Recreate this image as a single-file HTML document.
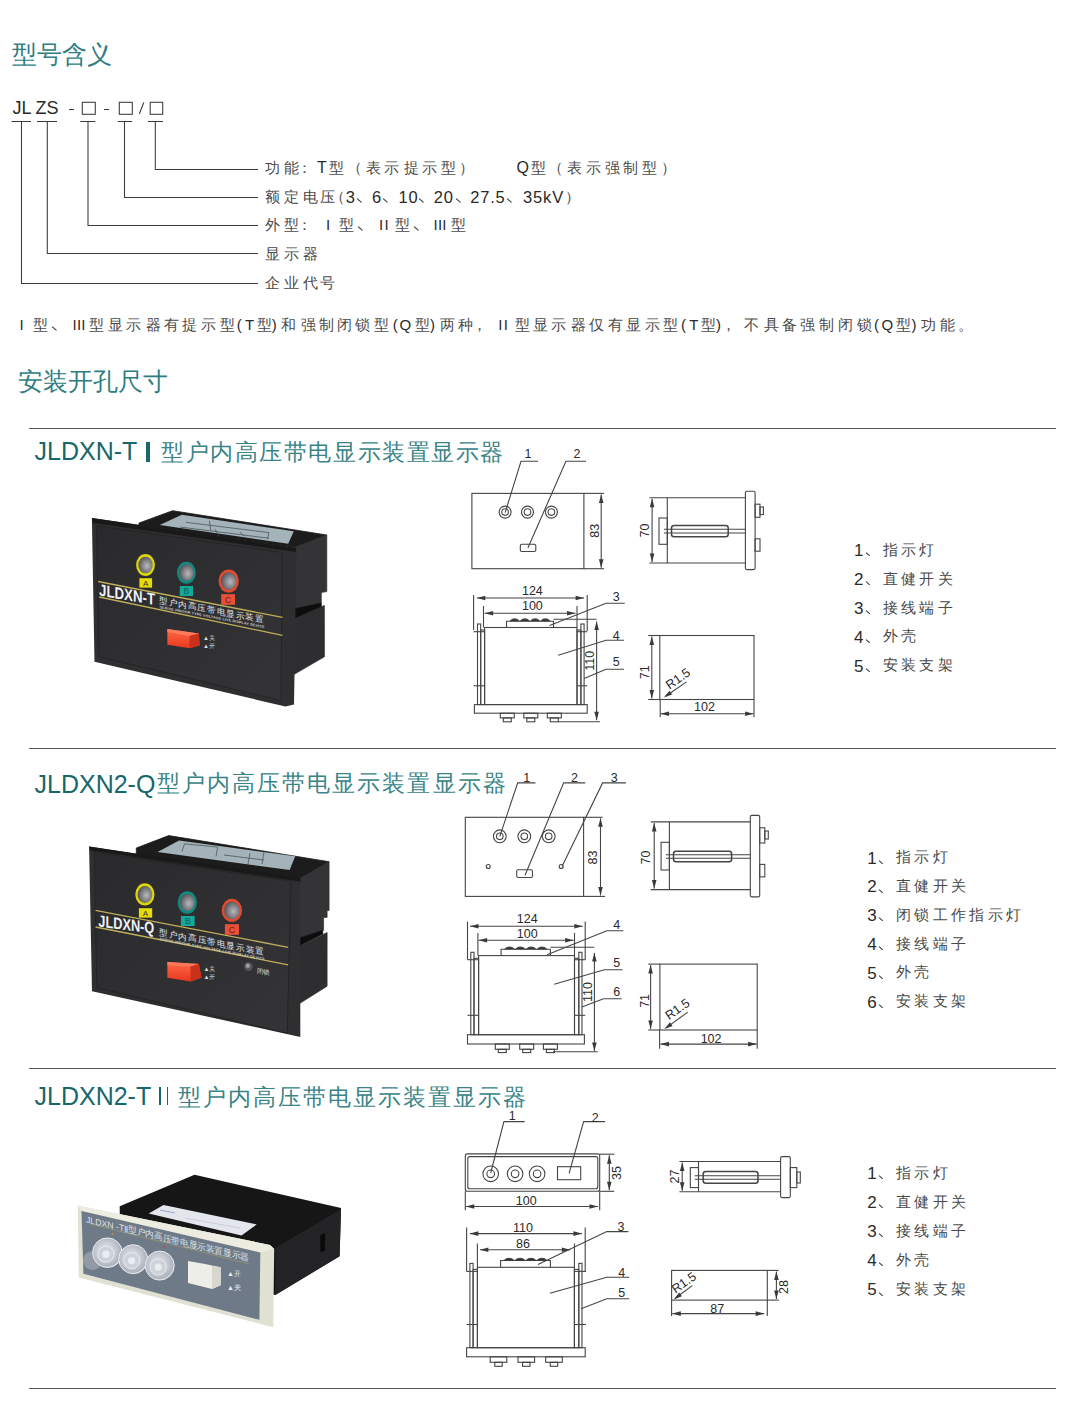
<!DOCTYPE html>
<html><head><meta charset="utf-8">
<style>
html,body{margin:0;padding:0;background:#fff;}
body{width:1085px;height:1417px;position:relative;overflow:hidden;font-family:"Liberation Sans",sans-serif;color:#2a2a2a;}
.a{position:absolute;white-space:nowrap;line-height:1;}
.title{font-size:25px;color:#2f7e82;}
.hr{position:absolute;height:1px;background:#5a5a5a;left:29px;width:1027px;}
svg{position:absolute;left:0;top:0;}
svg text{font-family:"Liberation Sans",sans-serif;stroke:none;}
.dw text{fill:#2a2a2a;}
</style></head><body>
<div class="a title" style="left:12px;top:42px;">型号含义</div>
<div class="a" style="left:12.5px;top:99.3px;font-size:18px;">JL</div>
<div class="a" style="left:35.5px;top:99.3px;font-size:18px;">ZS</div>
<svg width="1085" height="1417" viewBox="0 0 1085 1417"><g stroke="#3a3a3a" stroke-width="1.05" fill="none">
<line x1="69" y1="109.5" x2="74" y2="109.5"/>
<line x1="104" y1="109.5" x2="109" y2="109.5"/>
<rect x="82.3" y="102.3" width="13" height="12" />
<rect x="119.3" y="102.3" width="13" height="12" />
<rect x="150.2" y="102.3" width="12.5" height="12" />
<line x1="143.8" y1="102.5" x2="139.3" y2="114"/>
<line x1="11.5" y1="121.5" x2="31" y2="121.5"/>
<line x1="37" y1="121.5" x2="57" y2="121.5"/>
<line x1="80.3" y1="121.5" x2="95.3" y2="121.5"/>
<line x1="117.8" y1="121.5" x2="132.2" y2="121.5"/>
<line x1="148" y1="121.5" x2="163" y2="121.5"/>
<polyline points="155.3,121.5 155.3,169.5 258,169.5"/>
<polyline points="124.5,121.5 124.5,197.5 258,197.5"/>
<polyline points="88,121.5 88,225.5 258,225.5"/>
<polyline points="47.3,121.5 47.3,253.5 258,253.5"/>
<polyline points="21.5,121.5 21.5,283.5 258,283.5"/>
</g></svg>
<div class="a" style="left:264.7px;top:159.6px;font-size:15px;color:#4a4a4a;">功</div>
<div class="a" style="left:283.6px;top:159.6px;font-size:15px;color:#4a4a4a;">能</div>
<div class="a" style="left:296.9px;top:159.6px;font-size:15px;color:#4a4a4a;">：</div>
<div class="a" style="left:317.1px;top:159.6px;font-size:16px;">T</div>
<div class="a" style="left:328.7px;top:159.6px;font-size:15px;color:#4a4a4a;">型</div>
<div class="a" style="left:346.5px;top:159.6px;font-size:15px;color:#4a4a4a;">（</div>
<div class="a" style="left:365.7px;top:159.6px;font-size:15px;color:#4a4a4a;">表</div>
<div class="a" style="left:384.1px;top:159.6px;font-size:15px;color:#4a4a4a;">示</div>
<div class="a" style="left:403.5px;top:159.6px;font-size:15px;color:#4a4a4a;">提</div>
<div class="a" style="left:421.9px;top:159.6px;font-size:15px;color:#4a4a4a;">示</div>
<div class="a" style="left:440.8px;top:159.6px;font-size:15px;color:#4a4a4a;">型</div>
<div class="a" style="left:459.1px;top:159.6px;font-size:15px;color:#4a4a4a;">）</div>
<div class="a" style="left:516.4px;top:159.6px;font-size:16px;">Q</div>
<div class="a" style="left:530.7px;top:159.6px;font-size:15px;color:#4a4a4a;">型</div>
<div class="a" style="left:547.8px;top:159.6px;font-size:15px;color:#4a4a4a;">（</div>
<div class="a" style="left:567.1px;top:159.6px;font-size:15px;color:#4a4a4a;">表</div>
<div class="a" style="left:585.8px;top:159.6px;font-size:15px;color:#4a4a4a;">示</div>
<div class="a" style="left:605.2px;top:159.6px;font-size:15px;color:#4a4a4a;">强</div>
<div class="a" style="left:623.2px;top:159.6px;font-size:15px;color:#4a4a4a;">制</div>
<div class="a" style="left:641.9px;top:159.6px;font-size:15px;color:#4a4a4a;">型</div>
<div class="a" style="left:660.6px;top:159.6px;font-size:15px;color:#4a4a4a;">）</div>
<div class="a" style="left:264.7px;top:188.6px;font-size:15px;color:#4a4a4a;">额</div>
<div class="a" style="left:283.6px;top:188.6px;font-size:15px;color:#4a4a4a;">定</div>
<div class="a" style="left:302.9px;top:188.6px;font-size:15px;color:#4a4a4a;">电</div>
<div class="a" style="left:320.4px;top:188.6px;font-size:15px;color:#4a4a4a;">压</div>
<div class="a" style="left:330.3px;top:188.6px;font-size:15px;color:#4a4a4a;">（</div>
<div class="a" style="left:345.8px;top:188.6px;font-size:16.5px;">3</div>
<div style="position:absolute;left:357.0px;top:197.8px;width:6.0px;height:1.3px;background:#333;transform:rotate(42deg);transform-origin:0 50%;border-radius:0 1px 1px 0;"></div>
<div class="a" style="left:372.1px;top:188.6px;font-size:16.5px;">6</div>
<div style="position:absolute;left:383.3px;top:197.8px;width:6.0px;height:1.3px;background:#333;transform:rotate(42deg);transform-origin:0 50%;border-radius:0 1px 1px 0;"></div>
<div class="a" style="left:398.5px;top:188.6px;font-size:16.5px;letter-spacing:0.8px;">10</div>
<div style="position:absolute;left:419.3px;top:197.8px;width:6.0px;height:1.3px;background:#333;transform:rotate(42deg);transform-origin:0 50%;border-radius:0 1px 1px 0;"></div>
<div class="a" style="left:433.8px;top:188.6px;font-size:16.5px;letter-spacing:0.8px;">20</div>
<div style="position:absolute;left:456.4px;top:197.8px;width:6.0px;height:1.3px;background:#333;transform:rotate(42deg);transform-origin:0 50%;border-radius:0 1px 1px 0;"></div>
<div class="a" style="left:470.2px;top:188.6px;font-size:16.5px;letter-spacing:0.8px;">27.5</div>
<div style="position:absolute;left:507.1px;top:197.8px;width:6.0px;height:1.3px;background:#333;transform:rotate(42deg);transform-origin:0 50%;border-radius:0 1px 1px 0;"></div>
<div class="a" style="left:522.9px;top:188.6px;font-size:16.5px;letter-spacing:0.9px;">35kV</div>
<div class="a" style="left:565.0px;top:188.6px;font-size:15px;color:#4a4a4a;">）</div>
<div class="a" style="left:264.7px;top:216.6px;font-size:15px;color:#4a4a4a;">外</div>
<div class="a" style="left:283.6px;top:216.6px;font-size:15px;color:#4a4a4a;">型</div>
<div class="a" style="left:296.9px;top:216.6px;font-size:15px;color:#4a4a4a;">：</div>
<div class="a" style="left:325.9px;top:216.6px;font-size:15px;">I</div>
<div class="a" style="left:339.3px;top:216.6px;font-size:15px;color:#4a4a4a;">型</div>
<div style="position:absolute;left:357.7px;top:225.8px;width:6.0px;height:1.3px;background:#333;transform:rotate(42deg);transform-origin:0 50%;border-radius:0 1px 1px 0;"></div>
<div class="a" style="left:378.9px;top:216.6px;font-size:15px;letter-spacing:1.5px;">II</div>
<div class="a" style="left:395.3px;top:216.6px;font-size:15px;color:#4a4a4a;">型</div>
<div style="position:absolute;left:414.1px;top:225.8px;width:6.0px;height:1.3px;background:#333;transform:rotate(42deg);transform-origin:0 50%;border-radius:0 1px 1px 0;"></div>
<div class="a" style="left:433.6px;top:216.6px;font-size:15px;letter-spacing:0.2px;">III</div>
<div class="a" style="left:451.2px;top:216.6px;font-size:15px;color:#4a4a4a;">型</div>
<div class="a" style="left:264.7px;top:245.6px;font-size:15px;color:#4a4a4a;">显</div>
<div class="a" style="left:283.6px;top:245.6px;font-size:15px;color:#4a4a4a;">示</div>
<div class="a" style="left:302.9px;top:245.6px;font-size:15px;color:#4a4a4a;">器</div>
<div class="a" style="left:264.7px;top:274.6px;font-size:15px;color:#4a4a4a;">企</div>
<div class="a" style="left:283.6px;top:274.6px;font-size:15px;color:#4a4a4a;">业</div>
<div class="a" style="left:302.9px;top:274.6px;font-size:15px;color:#4a4a4a;">代</div>
<div class="a" style="left:320.4px;top:274.6px;font-size:15px;color:#4a4a4a;">号</div>
<div class="a" style="left:19.6px;top:316.7px;font-size:15px;">I</div>
<div class="a" style="left:33.0px;top:316.7px;font-size:15px;color:#4a4a4a;">型</div>
<div style="position:absolute;left:51.9px;top:325.9px;width:6.0px;height:1.3px;background:#333;transform:rotate(42deg);transform-origin:0 50%;border-radius:0 1px 1px 0;"></div>
<div class="a" style="left:72.6px;top:316.7px;font-size:15px;letter-spacing:0.2px;">III</div>
<div class="a" style="left:89.3px;top:316.7px;font-size:15px;color:#4a4a4a;">型</div>
<div class="a" style="left:108.2px;top:316.7px;font-size:15px;color:#4a4a4a;">显</div>
<div class="a" style="left:126.2px;top:316.7px;font-size:15px;color:#4a4a4a;">示</div>
<div class="a" style="left:145.6px;top:316.7px;font-size:15px;color:#4a4a4a;">器</div>
<div class="a" style="left:163.5px;top:316.7px;font-size:15px;color:#4a4a4a;">有</div>
<div class="a" style="left:182.4px;top:316.7px;font-size:15px;color:#4a4a4a;">提</div>
<div class="a" style="left:200.9px;top:316.7px;font-size:15px;color:#4a4a4a;">示</div>
<div class="a" style="left:219.8px;top:316.7px;font-size:15px;color:#4a4a4a;">型</div>
<div class="a" style="left:236.8px;top:316.7px;font-size:15px;">(</div>
<div class="a" style="left:245.0px;top:316.7px;font-size:15px;">T</div>
<div class="a" style="left:256.7px;top:316.7px;font-size:15px;color:#4a4a4a;">型</div>
<div class="a" style="left:271.8px;top:316.7px;font-size:15px;">)</div>
<div class="a" style="left:281.1px;top:316.7px;font-size:15px;color:#4a4a4a;">和</div>
<div class="a" style="left:300.5px;top:316.7px;font-size:15px;color:#4a4a4a;">强</div>
<div class="a" style="left:318.5px;top:316.7px;font-size:15px;color:#4a4a4a;">制</div>
<div class="a" style="left:337.4px;top:316.7px;font-size:15px;color:#4a4a4a;">闭</div>
<div class="a" style="left:355.4px;top:316.7px;font-size:15px;color:#4a4a4a;">锁</div>
<div class="a" style="left:374.3px;top:316.7px;font-size:15px;color:#4a4a4a;">型</div>
<div class="a" style="left:392.7px;top:316.7px;font-size:15px;">(</div>
<div class="a" style="left:399.6px;top:316.7px;font-size:15px;">Q</div>
<div class="a" style="left:414.9px;top:316.7px;font-size:15px;color:#4a4a4a;">型</div>
<div class="a" style="left:430.0px;top:316.7px;font-size:15px;">)</div>
<div class="a" style="left:440.2px;top:316.7px;font-size:15px;color:#4a4a4a;">两</div>
<div class="a" style="left:458.2px;top:316.7px;font-size:15px;color:#4a4a4a;">种</div>
<div class="a" style="left:472.0px;top:316.7px;font-size:15px;color:#4a4a4a;">，</div>
<div class="a" style="left:498.2px;top:316.7px;font-size:15px;letter-spacing:1.5px;">II</div>
<div class="a" style="left:514.5px;top:316.7px;font-size:15px;color:#4a4a4a;">型</div>
<div class="a" style="left:533.4px;top:316.7px;font-size:15px;color:#4a4a4a;">显</div>
<div class="a" style="left:551.4px;top:316.7px;font-size:15px;color:#4a4a4a;">示</div>
<div class="a" style="left:570.7px;top:316.7px;font-size:15px;color:#4a4a4a;">器</div>
<div class="a" style="left:588.8px;top:316.7px;font-size:15px;color:#4a4a4a;">仅</div>
<div class="a" style="left:607.6px;top:316.7px;font-size:15px;color:#4a4a4a;">有</div>
<div class="a" style="left:626.1px;top:316.7px;font-size:15px;color:#4a4a4a;">显</div>
<div class="a" style="left:644.5px;top:316.7px;font-size:15px;color:#4a4a4a;">示</div>
<div class="a" style="left:663.4px;top:316.7px;font-size:15px;color:#4a4a4a;">型</div>
<div class="a" style="left:680.9px;top:316.7px;font-size:15px;">(</div>
<div class="a" style="left:689.2px;top:316.7px;font-size:15px;">T</div>
<div class="a" style="left:700.8px;top:316.7px;font-size:15px;color:#4a4a4a;">型</div>
<div class="a" style="left:715.9px;top:316.7px;font-size:15px;">)</div>
<div class="a" style="left:720.6px;top:316.7px;font-size:15px;color:#4a4a4a;">，</div>
<div class="a" style="left:744.1px;top:316.7px;font-size:15px;color:#4a4a4a;">不</div>
<div class="a" style="left:763.5px;top:316.7px;font-size:15px;color:#4a4a4a;">具</div>
<div class="a" style="left:782.0px;top:316.7px;font-size:15px;color:#4a4a4a;">备</div>
<div class="a" style="left:800.4px;top:316.7px;font-size:15px;color:#4a4a4a;">强</div>
<div class="a" style="left:819.3px;top:316.7px;font-size:15px;color:#4a4a4a;">制</div>
<div class="a" style="left:838.2px;top:316.7px;font-size:15px;color:#4a4a4a;">闭</div>
<div class="a" style="left:856.6px;top:316.7px;font-size:15px;color:#4a4a4a;">锁</div>
<div class="a" style="left:874.1px;top:316.7px;font-size:15px;">(</div>
<div class="a" style="left:881.5px;top:316.7px;font-size:15px;">Q</div>
<div class="a" style="left:896.3px;top:316.7px;font-size:15px;color:#4a4a4a;">型</div>
<div class="a" style="left:911.5px;top:316.7px;font-size:15px;">)</div>
<div class="a" style="left:921.2px;top:316.7px;font-size:15px;color:#4a4a4a;">功</div>
<div class="a" style="left:939.7px;top:316.7px;font-size:15px;color:#4a4a4a;">能</div>
<div class="a" style="left:958.0px;top:316.7px;font-size:15px;color:#4a4a4a;">。</div>
<div class="a title" style="left:18px;top:369px;">安装开孔尺寸</div>
<div class="hr" style="top:428px;"></div>
<div class="hr" style="top:748px;"></div>
<div class="hr" style="top:1068px;"></div>
<div class="hr" style="top:1388px;"></div>
<div class="a" style="left:34.5px;top:439.2px;font-size:25px;color:#17676b;">JLDXN-T</div><div style="position:absolute;left:146px;top:442px;width:3.5px;height:20px;background:#17676b;"></div><div class="a" style="left:161px;top:440.5px;font-size:23px;letter-spacing:1.57px;color:#3a8487;">型户内高压带电显示装置显示器</div>
<div class="a" style="left:34.5px;top:771.9px;font-size:25px;color:#17676b;">JLDXN2-Q</div><div class="a" style="left:157px;top:772px;font-size:23px;letter-spacing:2.05px;color:#3a8487;">型户内高压带电显示装置显示器</div>
<div class="a" style="left:34.5px;top:1083.5px;font-size:25px;color:#17676b;">JLDXN2-T</div><div style="position:absolute;left:159px;top:1087px;width:1.8px;height:17.5px;background:#17676b;"></div><div style="position:absolute;left:166.5px;top:1087px;width:1.8px;height:17.5px;background:#17676b;"></div><div class="a" style="left:178px;top:1086px;font-size:23px;letter-spacing:2.00px;color:#3a8487;">型户内高压带电显示装置显示器</div>
<div class="a" style="left:854px;top:542.2px;font-size:17px;">1</div>
<div style="position:absolute;left:865.5px;top:552.3px;width:5.2px;height:1.3px;background:#333;transform:rotate(42deg);transform-origin:0 50%;border-radius:0 1px 1px 0;"></div>
<div class="a" style="left:882.6px;top:541.7px;font-size:15px;letter-spacing:3.40px;color:#4a4a4a;">指示灯</div>
<div class="a" style="left:854px;top:571.1px;font-size:17px;">2</div>
<div style="position:absolute;left:865.5px;top:581.2px;width:5.2px;height:1.3px;background:#333;transform:rotate(42deg);transform-origin:0 50%;border-radius:0 1px 1px 0;"></div>
<div class="a" style="left:882.6px;top:570.6px;font-size:15px;letter-spacing:3.40px;color:#4a4a4a;">直健开关</div>
<div class="a" style="left:854px;top:600.0px;font-size:17px;">3</div>
<div style="position:absolute;left:865.5px;top:610.1px;width:5.2px;height:1.3px;background:#333;transform:rotate(42deg);transform-origin:0 50%;border-radius:0 1px 1px 0;"></div>
<div class="a" style="left:882.6px;top:599.5px;font-size:15px;letter-spacing:3.40px;color:#4a4a4a;">接线端子</div>
<div class="a" style="left:854px;top:628.9px;font-size:17px;">4</div>
<div style="position:absolute;left:865.5px;top:639.0px;width:5.2px;height:1.3px;background:#333;transform:rotate(42deg);transform-origin:0 50%;border-radius:0 1px 1px 0;"></div>
<div class="a" style="left:882.6px;top:628.4000000000001px;font-size:15px;letter-spacing:3.40px;color:#4a4a4a;">外壳</div>
<div class="a" style="left:854px;top:657.8px;font-size:17px;">5</div>
<div style="position:absolute;left:865.5px;top:667.9px;width:5.2px;height:1.3px;background:#333;transform:rotate(42deg);transform-origin:0 50%;border-radius:0 1px 1px 0;"></div>
<div class="a" style="left:882.6px;top:657.3000000000001px;font-size:15px;letter-spacing:3.40px;color:#4a4a4a;">安装支架</div>
<div class="a" style="left:867.3px;top:849.5px;font-size:17px;">1</div>
<div style="position:absolute;left:878.8px;top:859.6px;width:5.2px;height:1.3px;background:#333;transform:rotate(42deg);transform-origin:0 50%;border-radius:0 1px 1px 0;"></div>
<div class="a" style="left:895.9px;top:849.0px;font-size:15px;letter-spacing:3.40px;color:#4a4a4a;">指示灯</div>
<div class="a" style="left:867.3px;top:878.4px;font-size:17px;">2</div>
<div style="position:absolute;left:878.8px;top:888.5px;width:5.2px;height:1.3px;background:#333;transform:rotate(42deg);transform-origin:0 50%;border-radius:0 1px 1px 0;"></div>
<div class="a" style="left:895.9px;top:877.86px;font-size:15px;letter-spacing:3.40px;color:#4a4a4a;">直健开关</div>
<div class="a" style="left:867.3px;top:907.2px;font-size:17px;">3</div>
<div style="position:absolute;left:878.8px;top:917.3px;width:5.2px;height:1.3px;background:#333;transform:rotate(42deg);transform-origin:0 50%;border-radius:0 1px 1px 0;"></div>
<div class="a" style="left:895.9px;top:906.72px;font-size:15px;letter-spacing:3.40px;color:#4a4a4a;">闭锁工作指示灯</div>
<div class="a" style="left:867.3px;top:936.1px;font-size:17px;">4</div>
<div style="position:absolute;left:878.8px;top:946.2px;width:5.2px;height:1.3px;background:#333;transform:rotate(42deg);transform-origin:0 50%;border-radius:0 1px 1px 0;"></div>
<div class="a" style="left:895.9px;top:935.58px;font-size:15px;letter-spacing:3.40px;color:#4a4a4a;">接线端子</div>
<div class="a" style="left:867.3px;top:964.9px;font-size:17px;">5</div>
<div style="position:absolute;left:878.8px;top:975.0px;width:5.2px;height:1.3px;background:#333;transform:rotate(42deg);transform-origin:0 50%;border-radius:0 1px 1px 0;"></div>
<div class="a" style="left:895.9px;top:964.44px;font-size:15px;letter-spacing:3.40px;color:#4a4a4a;">外壳</div>
<div class="a" style="left:867.3px;top:993.8px;font-size:17px;">6</div>
<div style="position:absolute;left:878.8px;top:1003.9px;width:5.2px;height:1.3px;background:#333;transform:rotate(42deg);transform-origin:0 50%;border-radius:0 1px 1px 0;"></div>
<div class="a" style="left:895.9px;top:993.3px;font-size:15px;letter-spacing:3.40px;color:#4a4a4a;">安装支架</div>
<div class="a" style="left:867.3px;top:1165.0px;font-size:17px;">1</div>
<div style="position:absolute;left:878.8px;top:1175.1px;width:5.2px;height:1.3px;background:#333;transform:rotate(42deg);transform-origin:0 50%;border-radius:0 1px 1px 0;"></div>
<div class="a" style="left:895.9px;top:1164.5px;font-size:15px;letter-spacing:3.40px;color:#4a4a4a;">指示灯</div>
<div class="a" style="left:867.3px;top:1194.1px;font-size:17px;">2</div>
<div style="position:absolute;left:878.8px;top:1204.2px;width:5.2px;height:1.3px;background:#333;transform:rotate(42deg);transform-origin:0 50%;border-radius:0 1px 1px 0;"></div>
<div class="a" style="left:895.9px;top:1193.6px;font-size:15px;letter-spacing:3.40px;color:#4a4a4a;">直健开关</div>
<div class="a" style="left:867.3px;top:1223.2px;font-size:17px;">3</div>
<div style="position:absolute;left:878.8px;top:1233.3px;width:5.2px;height:1.3px;background:#333;transform:rotate(42deg);transform-origin:0 50%;border-radius:0 1px 1px 0;"></div>
<div class="a" style="left:895.9px;top:1222.7px;font-size:15px;letter-spacing:3.40px;color:#4a4a4a;">接线端子</div>
<div class="a" style="left:867.3px;top:1252.3px;font-size:17px;">4</div>
<div style="position:absolute;left:878.8px;top:1262.4px;width:5.2px;height:1.3px;background:#333;transform:rotate(42deg);transform-origin:0 50%;border-radius:0 1px 1px 0;"></div>
<div class="a" style="left:895.9px;top:1251.8px;font-size:15px;letter-spacing:3.40px;color:#4a4a4a;">外壳</div>
<div class="a" style="left:867.3px;top:1281.4px;font-size:17px;">5</div>
<div style="position:absolute;left:878.8px;top:1291.5px;width:5.2px;height:1.3px;background:#333;transform:rotate(42deg);transform-origin:0 50%;border-radius:0 1px 1px 0;"></div>
<div class="a" style="left:895.9px;top:1280.9px;font-size:15px;letter-spacing:3.40px;color:#4a4a4a;">安装支架</div>
<svg class="dw" width="1085" height="1417" viewBox="0 0 1085 1417"><g stroke="#454545" stroke-width="1.1" fill="none">
<rect x="471.9" y="493.4" width="112" height="75.3" />
<line x1="583.9" y1="493.4" x2="604" y2="493.4"/><line x1="583.9" y1="568.7" x2="604" y2="568.7"/>
<line x1="601.2" y1="494.4" x2="601.2" y2="567.7"/><polygon points="601.2,494.4 603.5,502.9 598.9,502.9" fill="#3a3a3a" stroke="none"/><polygon points="601.2,567.7 598.9,559.2 603.5,559.2" fill="#3a3a3a" stroke="none"/>
<circle cx="505.1" cy="512.1" r="6.0"/><circle cx="505.1" cy="512.1" r="3.3"/>
<circle cx="527.5" cy="512.1" r="6.0"/><circle cx="527.5" cy="512.1" r="3.3"/>
<circle cx="551.4" cy="512.1" r="6.0"/><circle cx="551.4" cy="512.1" r="3.3"/>
<rect x="520.3" y="544.3" width="15.5" height="7.2" rx="1.5"/>
<polyline points="505.1,512.7 521,461.3 538,461.3"/>
<polyline points="527.9,548 565.9,461.3 586,461.3"/>
<line x1="649.4" y1="497.7" x2="745.4" y2="497.7"/><line x1="649.4" y1="563" x2="745.4" y2="563"/><line x1="667.3" y1="497.7" x2="667.3" y2="563"/><rect x="745.4" y="491.3" width="9.700000000000045" height="78.30000000000001" rx="1.5"/><rect x="659" y="518" width="8.299999999999955" height="26.299999999999955" /><rect x="671.5" y="525.6" width="56.700000000000045" height="11.100000000000023" rx="2.5" stroke-width="1.5"/><line x1="663.9" y1="529.3" x2="745.4" y2="529.3"/><line x1="663.9" y1="533" x2="745.4" y2="533"/><rect x="755.1" y="504.2" width="4.899999999999977" height="13.099999999999966" /><rect x="755.1" y="538.8" width="4.899999999999977" height="12.400000000000091" />
<rect x="760" y="507" width="3.4" height="7.6" />
<line x1="652.1" y1="498.7" x2="652.1" y2="562"/><polygon points="652.1,498.7 654.4,507.2 649.8,507.2" fill="#3a3a3a" stroke="none"/><polygon points="652.1,562.0 649.8,553.5 654.4,553.5" fill="#3a3a3a" stroke="none"/>
<line x1="476.8" y1="598" x2="584.1" y2="598"/><polygon points="476.8,598.0 485.3,595.7 485.3,600.3" fill="#3a3a3a" stroke="none"/><polygon points="584.1,598.0 575.6,600.3 575.6,595.7" fill="#3a3a3a" stroke="none"/><line x1="473.6" y1="594.9" x2="473.6" y2="630.1"/><line x1="587.2" y1="594.9" x2="587.2" y2="631"/>
<line x1="484.6" y1="613.2" x2="575.5" y2="613.2"/><polygon points="484.6,613.2 493.1,610.9 493.1,615.5" fill="#3a3a3a" stroke="none"/><polygon points="575.5,613.2 567.0,615.5 567.0,610.9" fill="#3a3a3a" stroke="none"/><line x1="483.5" y1="606" x2="483.5" y2="627.5"/><line x1="577" y1="606" x2="577" y2="627.5"/>
<rect x="484.6" y="627.5" width="92.4" height="77.1" />
<polyline points="506.5,627.5 506.5,621.2 553.5,621.2 553.5,627.5"/><path d="M510.0,621.2 Q514.625,616.7 519.25,621.2" fill="#333"/><path d="M520.25,621.2 Q524.875,616.7 529.5,621.2" fill="#333"/><path d="M530.5,621.2 Q535.125,616.7 539.75,621.2" fill="#333"/><path d="M540.75,621.2 Q545.375,616.7 550.0,621.2" fill="#333"/>
<line x1="553.5" y1="619.2" x2="596.6" y2="619.2"/>
<rect x="477.5" y="624" width="3.2" height="80.60000000000002" /><rect x="480.7" y="630" width="3.9000000000000226" height="74.60000000000002" /><line x1="473.6" y1="631.7" x2="484.6" y2="631.7"/><line x1="473.6" y1="685.8" x2="484.6" y2="685.8"/>
<rect x="580.9" y="624" width="3.2" height="80.60000000000002" /><rect x="577" y="630" width="3.8999999999999773" height="74.60000000000002" /><line x1="577" y1="631.7" x2="587.2" y2="631.7"/><line x1="577" y1="685.8" x2="587.2" y2="685.8"/>
<rect x="474.4" y="704.6" width="112.8" height="8.6" />
<rect x="500.3" y="713.2" width="14" height="4.699999999999932" /><rect x="503.3" y="717.9" width="8" height="3.8999999999999773" /><rect x="523.8" y="713.2" width="14" height="4.699999999999932" /><rect x="526.8" y="717.9" width="8" height="3.8999999999999773" /><rect x="547.3" y="713.2" width="14" height="4.699999999999932" /><rect x="550.3" y="717.9" width="8" height="3.8999999999999773" />
<line x1="558" y1="721.8" x2="600" y2="721.8"/>
<line x1="596.6" y1="621.5" x2="596.6" y2="720.2"/><polygon points="596.6,621.5 598.9,630.0 594.3,630.0" fill="#3a3a3a" stroke="none"/><polygon points="596.6,720.2 594.3,711.7 598.9,711.7" fill="#3a3a3a" stroke="none"/>
<polyline points="549.6,625.4 606,603.2 624.8,603.2"/>
<polyline points="558.2,655.2 606,640.3 624,640.3"/>
<polyline points="584.1,678.4 606,669.3 624,669.3"/>
<rect x="659.8" y="635.5" width="94.2" height="64" />
<line x1="648.2" y1="635.5" x2="659.8" y2="635.5"/><line x1="648.2" y1="699.5" x2="659.8" y2="699.5"/>
<line x1="651.8" y1="636.5" x2="651.8" y2="698.5"/><polygon points="651.8,636.5 654.1,645.0 649.5,645.0" fill="#3a3a3a" stroke="none"/><polygon points="651.8,698.5 649.5,690.0 654.1,690.0" fill="#3a3a3a" stroke="none"/>
<line x1="660.5" y1="713.7" x2="753.6" y2="713.7"/><polygon points="660.5,713.7 669.0,711.4 669.0,716.0" fill="#3a3a3a" stroke="none"/><polygon points="753.6,713.7 745.1,716.0 745.1,711.4" fill="#3a3a3a" stroke="none"/><line x1="660.2" y1="699.5" x2="660.2" y2="717.3"/><line x1="754" y1="699.5" x2="754" y2="717.3"/>
<line x1="686.5" y1="681.9" x2="666" y2="696"/><polygon points="663.8,697.5 669.5,690.8 672.1,694.6" fill="#3a3a3a" stroke="none"/>
<rect x="465.3" y="817.3" width="118.3" height="79.1" />
<line x1="583.6" y1="817.3" x2="602.6" y2="817.3"/><line x1="583.6" y1="896.4" x2="605.1" y2="896.4"/>
<line x1="600.5" y1="818.3" x2="600.5" y2="895.4"/><polygon points="600.5,818.3 602.8,826.8 598.2,826.8" fill="#3a3a3a" stroke="none"/><polygon points="600.5,895.4 598.2,886.9 602.8,886.9" fill="#3a3a3a" stroke="none"/>
<circle cx="499.8" cy="836.3" r="6.4"/><circle cx="499.8" cy="836.3" r="3.3"/>
<circle cx="524.3" cy="836.3" r="6.4"/><circle cx="524.3" cy="836.3" r="3.3"/>
<circle cx="548.7" cy="836.3" r="6.4"/><circle cx="548.7" cy="836.3" r="3.3"/>
<circle cx="488.2" cy="866.5" r="2"/><circle cx="561.2" cy="866.5" r="2"/>
<rect x="516.7" y="869.8" width="15.8" height="7.7" rx="1.5"/>
<polyline points="499.8,836.3 517.7,782.9 535.5,782.9"/>
<polyline points="525,875.3 563.7,782.9 585.2,782.9"/>
<polyline points="562,866.5 602.6,782.9 625.9,782.9"/>
<line x1="650.7" y1="821.9" x2="750.3" y2="821.9"/><line x1="650.7" y1="889.6" x2="750.3" y2="889.6"/><line x1="669.4" y1="821.9" x2="669.4" y2="889.6"/><rect x="750.3" y="815.4" width="9.400000000000091" height="81.5" rx="1.5"/><rect x="661.1" y="842.3" width="8.299999999999955" height="27.700000000000045" /><rect x="673.5" y="851.3" width="58.10000000000002" height="10.400000000000091" rx="2.5" stroke-width="1.5"/><line x1="666" y1="854.8" x2="750.3" y2="854.8"/><line x1="666" y1="858.2" x2="750.3" y2="858.2"/><rect x="759.7" y="827.8" width="5.099999999999909" height="15.200000000000045" /><rect x="759.7" y="864.4" width="5.099999999999909" height="12.5" />
<rect x="764.8" y="831" width="3.5" height="8" />
<line x1="654.2" y1="822.9" x2="654.2" y2="888.6"/><polygon points="654.2,822.9 656.5,831.4 651.9,831.4" fill="#3a3a3a" stroke="none"/><polygon points="654.2,888.6 651.9,880.1 656.5,880.1" fill="#3a3a3a" stroke="none"/>
<line x1="470" y1="926.2" x2="582.8" y2="926.2"/><polygon points="470.0,926.2 478.5,923.9 478.5,928.5" fill="#3a3a3a" stroke="none"/><polygon points="582.8,926.2 574.3,928.5 574.3,923.9" fill="#3a3a3a" stroke="none"/><line x1="467.5" y1="921.6" x2="467.5" y2="959.7"/><line x1="585.2" y1="921.6" x2="585.2" y2="959.7"/>
<line x1="478.6" y1="940.3" x2="573.6" y2="940.3"/><polygon points="478.6,940.3 487.1,938.0 487.1,942.6" fill="#3a3a3a" stroke="none"/><polygon points="573.6,940.3 565.1,942.6 565.1,938.0" fill="#3a3a3a" stroke="none"/><line x1="477.9" y1="933" x2="477.9" y2="955.6"/><line x1="574.5" y1="933" x2="574.5" y2="955.6"/>
<rect x="478.6" y="955.6" width="95.9" height="79.1" />
<polyline points="501.1,955.6 501.1,949.3 550.4,949.3 550.4,955.6"/><path d="M504.6,949.3 Q509.51250000000005,944.8 514.4250000000001,949.3" fill="#333"/><path d="M515.425,949.3 Q520.3375,944.8 525.25,949.3" fill="#333"/><path d="M526.25,949.3 Q531.1625,944.8 536.075,949.3" fill="#333"/><path d="M537.0749999999999,949.3 Q541.9875,944.8 546.9,949.3" fill="#333"/>
<line x1="550.4" y1="947.3" x2="594.4" y2="947.3"/>
<rect x="470.8" y="952.3" width="3.2" height="82.40000000000009" /><rect x="474.0" y="958.3" width="4.600000000000011" height="76.40000000000009" /><line x1="467.5" y1="959.7" x2="478.6" y2="959.7"/><line x1="467.5" y1="1015.3" x2="478.6" y2="1015.3"/>
<rect x="578.8" y="952.3" width="3.2" height="82.40000000000009" /><rect x="574.5" y="958.3" width="4.2999999999999545" height="76.40000000000009" /><line x1="574.5" y1="959.7" x2="585.2" y2="959.7"/><line x1="574.5" y1="1015.3" x2="585.2" y2="1015.3"/>
<rect x="467.5" y="1034.7" width="116.9" height="9.3" />
<rect x="495.3" y="1044" width="14" height="5.2999999999999545" /><rect x="498.3" y="1049.3" width="8" height="3.2999999999999545" /><rect x="519.7" y="1044" width="14" height="5.2999999999999545" /><rect x="522.7" y="1049.3" width="8" height="3.2999999999999545" /><rect x="543.4" y="1044" width="14" height="5.2999999999999545" /><rect x="546.4" y="1049.3" width="8" height="3.2999999999999545" />
<line x1="553" y1="1051.8" x2="597.7" y2="1051.8"/>
<line x1="594.4" y1="953" x2="594.4" y2="1051"/><polygon points="594.4,953.0 596.7,961.5 592.1,961.5" fill="#3a3a3a" stroke="none"/><polygon points="594.4,1051.0 592.1,1042.5 596.7,1042.5" fill="#3a3a3a" stroke="none"/>
<polyline points="547.1,954.8 606.8,930.7 623.4,930.7"/>
<polyline points="554.2,984.3 604.3,969.7 622.6,969.7"/>
<polyline points="581.9,1007 603.5,998.7 621.7,998.7"/>
<rect x="659.9" y="964.1" width="97.3" height="65.9" />
<line x1="648.2" y1="964.1" x2="659.9" y2="964.1"/><line x1="648.2" y1="1030" x2="659.9" y2="1030"/>
<line x1="650.6" y1="965.1" x2="650.6" y2="1029"/><polygon points="650.6,965.1 652.9,973.6 648.3,973.6" fill="#3a3a3a" stroke="none"/><polygon points="650.6,1029.0 648.3,1020.5 652.9,1020.5" fill="#3a3a3a" stroke="none"/>
<line x1="660.5" y1="1044.1" x2="756.6" y2="1044.1"/><polygon points="660.5,1044.1 669.0,1041.8 669.0,1046.4" fill="#3a3a3a" stroke="none"/><polygon points="756.6,1044.1 748.1,1046.4 748.1,1041.8" fill="#3a3a3a" stroke="none"/><line x1="659.6" y1="1030" x2="659.6" y2="1048.8"/><line x1="757.2" y1="1030" x2="757.2" y2="1048.8"/>
<line x1="687.7" y1="1012.1" x2="666.5" y2="1027.6"/><polygon points="664.4,1029.1 669.9,1022.2 672.6,1025.9" fill="#3a3a3a" stroke="none"/>
<rect x="465.3" y="1153.9" width="134.4" height="37.4" rx="2"/>
<rect x="467.8" y="1156.6" width="130" height="32.2" rx="2"/>
<line x1="599.7" y1="1154.2" x2="614.3" y2="1154.2"/><line x1="599.7" y1="1191.3" x2="614.3" y2="1191.3"/>
<line x1="609.3" y1="1155.2" x2="609.3" y2="1190.3"/><polygon points="609.3,1155.2 611.6,1163.7 607.0,1163.7" fill="#3a3a3a" stroke="none"/><polygon points="609.3,1190.3 607.0,1181.8 611.6,1181.8" fill="#3a3a3a" stroke="none"/>
<circle cx="490.7" cy="1173.8" r="7.8"/><circle cx="490.7" cy="1173.8" r="3.8"/>
<circle cx="515.1" cy="1173.8" r="7.8"/><circle cx="515.1" cy="1173.8" r="3.8"/>
<circle cx="537.1" cy="1173.8" r="7.8"/><circle cx="537.1" cy="1173.8" r="3.8"/>
<rect x="557.5" y="1166.7" width="23.2" height="13" />
<polyline points="490.7,1173 503.9,1121.6 524.7,1121.6"/>
<polyline points="569.1,1173.3 583.6,1121.6 605.1,1121.6"/>
<line x1="465.8" y1="1206.5" x2="598" y2="1206.5"/><polygon points="465.8,1206.5 474.3,1204.2 474.3,1208.8" fill="#3a3a3a" stroke="none"/><polygon points="598.0,1206.5 589.5,1208.8 589.5,1204.2" fill="#3a3a3a" stroke="none"/><line x1="465.3" y1="1191.3" x2="465.3" y2="1210.3"/><line x1="599.7" y1="1191.3" x2="599.7" y2="1210.3"/>
<line x1="679.4" y1="1161.5" x2="780.6" y2="1161.5"/><line x1="679.4" y1="1191.7" x2="780.6" y2="1191.7"/><line x1="698.5" y1="1161.5" x2="698.5" y2="1191.7"/><rect x="780.6" y="1156.6" width="9.699999999999932" height="41.0" rx="1.5"/><rect x="690.3" y="1167.6" width="8.200000000000045" height="20.0" /><rect x="703.2" y="1171.5" width="54.799999999999955" height="11.799999999999955" rx="2.5" stroke-width="1.5"/><line x1="694.8" y1="1175.7" x2="780.6" y2="1175.7"/><line x1="694.8" y1="1179.2" x2="780.6" y2="1179.2"/><rect x="790.3" y="1167.6" width="6.5" height="20.0" />
<rect x="796.8" y="1172" width="3.5" height="11" />
<line x1="682.2" y1="1162.5" x2="682.2" y2="1190.7"/><polygon points="682.2,1162.5 684.5,1171.0 679.9,1171.0" fill="#3a3a3a" stroke="none"/><polygon points="682.2,1190.7 679.9,1182.2 684.5,1182.2" fill="#3a3a3a" stroke="none"/>
<line x1="469.9" y1="1233.6" x2="581.9" y2="1233.6"/><polygon points="469.9,1233.6 478.4,1231.3 478.4,1235.9" fill="#3a3a3a" stroke="none"/><polygon points="581.9,1233.6 573.4,1235.9 573.4,1231.3" fill="#3a3a3a" stroke="none"/><line x1="466.6" y1="1227.4" x2="466.6" y2="1271.4"/><line x1="585.2" y1="1227.4" x2="585.2" y2="1271.4"/>
<line x1="479.9" y1="1249.8" x2="570.3" y2="1249.8"/><polygon points="479.9,1249.8 488.4,1247.5 488.4,1252.1" fill="#3a3a3a" stroke="none"/><polygon points="570.3,1249.8 561.8,1252.1 561.8,1247.5" fill="#3a3a3a" stroke="none"/><line x1="477.4" y1="1243.5" x2="477.4" y2="1267.3"/><line x1="574.4" y1="1243.5" x2="574.4" y2="1267.3"/>
<rect x="477.4" y="1267.3" width="97" height="80.4" />
<polyline points="500.6,1267.3 500.6,1260.5 550.4,1260.5 550.4,1267.3"/><path d="M504.1,1260.5 Q509.07500000000005,1256.0 514.0500000000001,1260.5" fill="#333"/><path d="M515.05,1260.5 Q520.025,1256.0 525.0,1260.5" fill="#333"/><path d="M526.0,1260.5 Q530.975,1256.0 535.95,1260.5" fill="#333"/><path d="M536.9499999999999,1260.5 Q541.925,1256.0 546.9,1260.5" fill="#333"/>
<rect x="469.9" y="1263.4" width="3.2" height="84.29999999999995" /><rect x="473.09999999999997" y="1269.4" width="4.3" height="78.29999999999995" /><line x1="466.6" y1="1271.4" x2="477.4" y2="1271.4"/><line x1="466.6" y1="1324.5" x2="477.4" y2="1324.5"/>
<rect x="578.8" y="1263.4" width="3.2" height="84.29999999999995" /><rect x="574.4" y="1269.4" width="4.399999999999977" height="78.29999999999995" /><line x1="574.4" y1="1271.4" x2="586" y2="1271.4"/><line x1="574.4" y1="1324.5" x2="586" y2="1324.5"/>
<rect x="466.6" y="1347.7" width="118.6" height="9.1" />
<rect x="490.2" y="1356.8" width="16.6" height="5.5" /><rect x="494.8" y="1362.3" width="7.4" height="4.0" /><rect x="518.0" y="1356.8" width="16.6" height="5.5" /><rect x="522.5999999999999" y="1362.3" width="7.4" height="4.0" /><rect x="545.7" y="1356.8" width="16.6" height="5.5" /><rect x="550.3" y="1362.3" width="7.4" height="4.0" />
<polyline points="538,1264.4 606.8,1231.6 628.4,1231.6"/>
<polyline points="549.9,1293.3 606.8,1277.2 629.2,1277.2"/>
<polyline points="581.1,1308.7 606.8,1298.8 629.2,1298.8"/>
<rect x="671.6" y="1270.4" width="95.7" height="29.7" />
<line x1="767.3" y1="1270.4" x2="778.7" y2="1270.4"/><line x1="767.3" y1="1300.1" x2="778.7" y2="1300.1"/>
<line x1="776.4" y1="1271.4" x2="776.4" y2="1299.1"/><polygon points="776.4,1271.4 778.7,1279.9 774.1,1279.9" fill="#3a3a3a" stroke="none"/><polygon points="776.4,1299.1 774.1,1290.6 778.7,1290.6" fill="#3a3a3a" stroke="none"/>
<line x1="672.3" y1="1313.6" x2="764.2" y2="1313.6"/><polygon points="672.3,1313.6 680.8,1311.3 680.8,1315.9" fill="#3a3a3a" stroke="none"/><polygon points="764.2,1313.6 755.7,1315.9 755.7,1311.3" fill="#3a3a3a" stroke="none"/><line x1="671.6" y1="1300.1" x2="671.6" y2="1316"/><line x1="767.3" y1="1300.1" x2="767.3" y2="1316"/>
<line x1="692.3" y1="1285.6" x2="675.5" y2="1298"/><polygon points="673.7,1299.4 679.2,1292.5 681.9,1296.2" fill="#3a3a3a" stroke="none"/>
</g>
<text x="527.9" y="454.2" font-size="12.5" text-anchor="middle" dominant-baseline="central">1</text>
<text x="577" y="454.2" font-size="12.5" text-anchor="middle" dominant-baseline="central">2</text>
<text x="595" y="530.7" font-size="12.5" text-anchor="middle" dominant-baseline="central" transform="rotate(-90 595 530.7)">83</text>
<text x="644.5" y="530.5" font-size="12.5" text-anchor="middle" dominant-baseline="central" transform="rotate(-90 644.5 530.5)">70</text>
<text x="532.4" y="591.1" font-size="12.5" text-anchor="middle" dominant-baseline="central">124</text>
<text x="532.4" y="606.0" font-size="12.5" text-anchor="middle" dominant-baseline="central">100</text>
<text x="590.4" y="660.7" font-size="12.5" text-anchor="middle" dominant-baseline="central" transform="rotate(-90 590.4 660.7)">110</text>
<text x="616.2" y="597.4" font-size="12.5" text-anchor="middle" dominant-baseline="central">3</text>
<text x="616.2" y="635.6999999999999" font-size="12.5" text-anchor="middle" dominant-baseline="central">4</text>
<text x="616.2" y="661.6" font-size="12.5" text-anchor="middle" dominant-baseline="central">5</text>
<text x="644.6" y="672.3" font-size="12.5" text-anchor="middle" dominant-baseline="central" transform="rotate(-90 644.6 672.3)">71</text>
<text x="704.5" y="707.4" font-size="12.5" text-anchor="middle" dominant-baseline="central">102</text>
<text x="678.1" y="678.9" font-size="12.5" text-anchor="middle" dominant-baseline="central" transform="rotate(-35 678.1 678.9)">R1.5</text>
<text x="526.7" y="777.5" font-size="12.5" text-anchor="middle" dominant-baseline="central">1</text>
<text x="574.4" y="777.5" font-size="12.5" text-anchor="middle" dominant-baseline="central">2</text>
<text x="614.3" y="777.5" font-size="12.5" text-anchor="middle" dominant-baseline="central">3</text>
<text x="593.5" y="857.6" font-size="12.5" text-anchor="middle" dominant-baseline="central" transform="rotate(-90 593.5 857.6)">83</text>
<text x="645.9" y="857.5" font-size="12.5" text-anchor="middle" dominant-baseline="central" transform="rotate(-90 645.9 857.5)">70</text>
<text x="527.2" y="918.8" font-size="12.5" text-anchor="middle" dominant-baseline="central">124</text>
<text x="527.2" y="934.1" font-size="12.5" text-anchor="middle" dominant-baseline="central">100</text>
<text x="587.7" y="992.1" font-size="12.5" text-anchor="middle" dominant-baseline="central" transform="rotate(-90 587.7 992.1)">110</text>
<text x="616.8" y="925.0" font-size="12.5" text-anchor="middle" dominant-baseline="central">4</text>
<text x="616.8" y="963.1" font-size="12.5" text-anchor="middle" dominant-baseline="central">5</text>
<text x="616.8" y="992.1999999999999" font-size="12.5" text-anchor="middle" dominant-baseline="central">6</text>
<text x="644.6" y="1000.9" font-size="12.5" text-anchor="middle" dominant-baseline="central" transform="rotate(-90 644.6 1000.9)">71</text>
<text x="711.1" y="1039.0" font-size="12.5" text-anchor="middle" dominant-baseline="central">102</text>
<text x="677.5" y="1009.3" font-size="12.5" text-anchor="middle" dominant-baseline="central" transform="rotate(-35 677.5 1009.3)">R1.5</text>
<text x="512.2" y="1115.9" font-size="12.5" text-anchor="middle" dominant-baseline="central">1</text>
<text x="595.2" y="1117.5" font-size="12.5" text-anchor="middle" dominant-baseline="central">2</text>
<text x="616.7" y="1173" font-size="12.5" text-anchor="middle" dominant-baseline="central" transform="rotate(-90 616.7 1173)">35</text>
<text x="526.3" y="1201.3000000000002" font-size="12.5" text-anchor="middle" dominant-baseline="central">100</text>
<text x="674.8" y="1176.6" font-size="12.5" text-anchor="middle" dominant-baseline="central" transform="rotate(-90 674.8 1176.6)">27</text>
<text x="523" y="1227.5" font-size="12.5" text-anchor="middle" dominant-baseline="central">110</text>
<text x="523" y="1244.4" font-size="12.5" text-anchor="middle" dominant-baseline="central">86</text>
<text x="620.9" y="1226.7" font-size="12.5" text-anchor="middle" dominant-baseline="central">3</text>
<text x="621.7" y="1273.1000000000001" font-size="12.5" text-anchor="middle" dominant-baseline="central">4</text>
<text x="621.7" y="1292.5" font-size="12.5" text-anchor="middle" dominant-baseline="central">5</text>
<text x="783.6" y="1287" font-size="12.5" text-anchor="middle" dominant-baseline="central" transform="rotate(-90 783.6 1287)">28</text>
<text x="717.2" y="1308.6000000000001" font-size="12.5" text-anchor="middle" dominant-baseline="central">87</text>
<text x="684" y="1282.8" font-size="12.5" text-anchor="middle" dominant-baseline="central" transform="rotate(-35 684 1282.8)">R1.5</text>
</svg>
<svg width="1085" height="1417" viewBox="0 0 1085 1417">
<defs><radialGradient id="ledg" cx="0.6" cy="0.55" r="0.65"><stop offset="0" stop-color="#b9b9bd"/><stop offset="0.55" stop-color="#7d7d82"/><stop offset="1" stop-color="#4a4a4e"/></radialGradient><linearGradient id="face1" x1="0" y1="0" x2="1" y2="1"><stop offset="0" stop-color="#2a2a2c"/><stop offset="1" stop-color="#343436"/></linearGradient><radialGradient id="lens" cx="0.45" cy="0.45" r="0.6"><stop offset="0" stop-color="#e6e9ee"/><stop offset="0.5" stop-color="#c9ced6"/><stop offset="0.85" stop-color="#aeb4be"/><stop offset="1" stop-color="#e2e5ea"/></radialGradient><linearGradient id="btn" x1="0" y1="0" x2="0" y2="1"><stop offset="0" stop-color="#ff6a4a"/><stop offset="1" stop-color="#e8381c"/></linearGradient></defs>
<polygon points="139.0,523.0 172.6,510.7 326.8,535.0 296.5,548.0 139.0,525.5" fill="#1c1c1d" stroke="#1c1c1d" stroke-width="0.8"/>
<polygon points="293.0,548.0 326.8,535.0 326.8,591.6 321.3,592.5 321.3,603.0 293.0,609.0" fill="#343437" stroke="#343437" stroke-width="0.7"/>
<polygon points="293.0,609.0 321.3,603.0 321.3,607.5 293.0,619.6" fill="#0d0d0e" stroke="#0d0d0e" stroke-width="0.7"/>
<polygon points="293.0,619.6 324.4,605.4 324.4,656.8 293.0,675.0" fill="#2e2e31" stroke="#2e2e31" stroke-width="0.7"/>
<polygon points="159.7,525.0 181.8,514.7 293.8,531.3 288.2,543.7" fill="#a4b3ba" />
<polyline points="186,522.3 268.9,532.6" fill="none" stroke="#3e4a50" stroke-width="0.7"/>
<polyline points="180.4,527.1 268.9,538.2" fill="none" stroke="#3e4a50" stroke-width="0.7"/>
<polyline points="209.4,520.9 210.8,530.6" fill="none" stroke="#3e4a50" stroke-width="0.7"/>
<polyline points="268.9,532.6 267.5,539" fill="none" stroke="#3e4a50" stroke-width="0.7"/>
<polyline points="215,529 220,538" fill="none" stroke="#3e4a50" stroke-width="0.7"/>
<polyline points="240,532 244,536" fill="none" stroke="#3e4a50" stroke-width="0.7"/>
<polygon points="91.9,518.0 296.5,548.0 294.0,704.5 285.5,706.5 94.5,661.8" fill="#2f2f31" />
<polygon points="91.9,518.0 296.0,548.0 296.0,552.0 93.0,523.0" fill="#19191a" />
<polygon points="96.5,525.5 282.0,552.5 281.0,700.5 98.8,656.5" fill="url(#face1)" stroke="#222" stroke-width="0.8"/>
<ellipse cx="145.5" cy="565" rx="9.4" ry="11.00" fill="#dcd50c"/><ellipse cx="145.5" cy="565" rx="7.14" ry="8.36" fill="url(#ledg)"/>
<ellipse cx="186.4" cy="572.7" rx="9.4" ry="11.00" fill="#138a80"/><ellipse cx="186.4" cy="572.7" rx="7.14" ry="8.36" fill="url(#ledg)"/>
<ellipse cx="228.7" cy="581" rx="10.2" ry="11.60" fill="#e04a30"/><ellipse cx="228.7" cy="581" rx="7.75" ry="8.82" fill="url(#ledg)"/>
<g transform="translate(139.4,578.2)"><rect x="0" y="0" width="12.699999999999989" height="9.399999999999977" fill="#e8dc08"/><text x="6.349999999999994" y="7.707999999999981" font-size="8.0" text-anchor="middle" fill="#333">A</text></g>
<g transform="translate(179.8,586)"><rect x="0" y="0" width="13.199999999999989" height="10" fill="#14a898"/><text x="6.599999999999994" y="8.2" font-size="8.5" text-anchor="middle" fill="#0f5a50">B</text></g>
<g transform="translate(221.2,594.2)"><rect x="0" y="0" width="13.800000000000011" height="10.599999999999909" fill="#e8503a"/><text x="6.900000000000006" y="8.691999999999926" font-size="9.0" text-anchor="middle" fill="#7a1a0a">C</text></g>
<line x1="98" y1="581.5" x2="282.5" y2="617.4" stroke="#bfae5a" stroke-width="1.3"/>
<line x1="99.2" y1="597" x2="282.5" y2="635.4" stroke="#bfae5a" stroke-width="1.3"/>
<text transform="matrix(1,0.17,0,1,99,595.5)" font-size="16.5" fill="#eef2f5" font-weight="bold" textLength="56" lengthAdjust="spacingAndGlyphs">JLDXN-T</text>
<text transform="matrix(1,0.19,0,1,159,603)" font-size="8.6" fill="#e6e6e6" textLength="105" lengthAdjust="spacing">型户内高压带电显示装置</text>
<text transform="matrix(1,0.19,0,1,159.5,608.2)" font-size="3.6" fill="#d0d0d0" font-weight="bold" textLength="105" lengthAdjust="spacing">SERIVE INDOOR TYPE  VOLTAGE LIVE  DISPLAY DEVICE</text>
<polygon points="167.4,629.0 198.8,633.6 199.7,645.6 189.5,648.3 167.4,644.7" fill="url(#btn)" />
<polygon points="167.4,629.0 198.8,633.6 189.5,636.0 167.4,632.0" fill="#ff7a5c" />
<polygon points="198.8,633.6 199.7,645.6 189.5,648.3 189.5,636.0" fill="#c8321a" />
<text x="203" y="640" font-size="6" fill="#ddd">▲关</text><text x="203" y="648" font-size="6" fill="#ddd">▲开</text>
<polygon points="136.3,848.0 168.7,835.6 329.1,861.7 300.3,879.6 136.3,854.5" fill="#1c1c1d" stroke="#1c1c1d" stroke-width="0.8"/>
<polygon points="298.0,879.6 329.1,861.7 329.1,910.5 327.1,910.5 327.1,917.4 323.6,917.4 323.6,930.5 298.0,938.5" fill="#343437" stroke="#343437" stroke-width="0.7"/>
<polygon points="298.0,938.5 322.3,930.5 323.0,933.9 298.0,946.8" fill="#0d0d0e" stroke="#0d0d0e" stroke-width="0.7"/>
<polygon points="298.0,946.8 327.1,932.5 327.1,986.2 298.0,1004.5" fill="#2e2e31" stroke="#2e2e31" stroke-width="0.7"/>
<polygon points="157.6,852.1 179.0,840.4 295.2,856.3 289.6,870.1" fill="#a4b3ba" />
<polyline points="184.5,843.8 217.7,847.1" fill="none" stroke="#3e4a50" stroke-width="0.7"/>
<polyline points="184.5,843.8 182,851.5" fill="none" stroke="#3e4a50" stroke-width="0.7"/>
<polyline points="217.7,847.1 216,856.5" fill="none" stroke="#3e4a50" stroke-width="0.7"/>
<polyline points="224,855 264,860" fill="none" stroke="#3e4a50" stroke-width="0.7"/>
<polyline points="250,853 248,864" fill="none" stroke="#3e4a50" stroke-width="0.7"/>
<polyline points="264,852 262,864" fill="none" stroke="#3e4a50" stroke-width="0.7"/>
<polygon points="89.1,846.4 300.3,879.6 300.3,1037.0 92.0,991.3" fill="#2f2f31" />
<polygon points="89.1,846.4 300.3,878.0 300.3,881.5 90.0,850.5" fill="#19191a" />
<polygon points="94.4,852.4 290.9,881.1 287.3,1033.3 96.8,987.7" fill="url(#face1)" stroke="#222" stroke-width="0.8"/>
<ellipse cx="144.9" cy="894.4" rx="9.6" ry="11.20" fill="#dcd50c"/><ellipse cx="144.9" cy="894.4" rx="7.30" ry="8.51" fill="url(#ledg)"/>
<ellipse cx="187.3" cy="902.5" rx="9.6" ry="11.20" fill="#138a80"/><ellipse cx="187.3" cy="902.5" rx="7.30" ry="8.51" fill="url(#ledg)"/>
<ellipse cx="231.9" cy="910.4" rx="10.2" ry="11.60" fill="#e04a30"/><ellipse cx="231.9" cy="910.4" rx="7.75" ry="8.82" fill="url(#ledg)"/>
<g transform="translate(138.9,908.2)"><rect x="0" y="0" width="13.299999999999983" height="9.399999999999977" fill="#e8dc08"/><text x="6.6499999999999915" y="7.707999999999981" font-size="8.0" text-anchor="middle" fill="#333">A</text></g>
<g transform="translate(180.9,916)"><rect x="0" y="0" width="13.799999999999983" height="10" fill="#14a898"/><text x="6.8999999999999915" y="8.2" font-size="8.5" text-anchor="middle" fill="#0f5a50">B</text></g>
<g transform="translate(224.9,924.2)"><rect x="0" y="0" width="14.099999999999994" height="10.599999999999909" fill="#e8503a"/><text x="7.049999999999997" y="8.691999999999926" font-size="9.0" text-anchor="middle" fill="#7a1a0a">C</text></g>
<line x1="95.5" y1="910.4" x2="288.2" y2="947.3" stroke="#bfae5a" stroke-width="1.3"/>
<line x1="95.5" y1="927" x2="288.2" y2="964.8" stroke="#bfae5a" stroke-width="1.3"/>
<text transform="matrix(1,0.13,0,1,98.3,926.5)" font-size="16.5" fill="#eef2f5" font-weight="bold" textLength="56" lengthAdjust="spacingAndGlyphs">JLDXN-Q</text>
<text transform="matrix(1,0.1935,0,1,159.1,934.8)" font-size="8.6" fill="#e6e6e6" textLength="105" lengthAdjust="spacing">型户内高压带电显示装置</text>
<text transform="matrix(1,0.1935,0,1,159.6,940.0)" font-size="3.6" fill="#d0d0d0" font-weight="bold" textLength="105" lengthAdjust="spacing">SERIVE INDOOR TYPE  VOLTAGE LIVE  DISPLAY DEVICE</text>
<polygon points="167.4,962.0 198.8,963.9 201.5,977.7 190.5,981.4 167.4,977.7" fill="url(#btn)" />
<polygon points="167.4,962.0 198.8,963.9 190.5,966.5 167.4,965.0" fill="#ff7a5c" />
<polygon points="198.8,963.9 201.5,977.7 190.5,981.4 190.5,966.5" fill="#c8321a" />
<text x="203.5" y="971" font-size="6" fill="#ddd">▲关</text><text x="203.5" y="979" font-size="6" fill="#ddd">▲开</text>
<circle cx="248.5" cy="966.6" r="4.3" fill="#55565a"/><circle cx="247.8" cy="965.8" r="2.2" fill="#9a9ca0"/>
<text transform="matrix(1,0.12,0,1,256.5,973)" font-size="6.5" fill="#ddd" >闭锁</text>
<polygon points="119.7,1206.3 194.5,1174.7 341.0,1207.9 339.6,1256.2 275.3,1295.0 120.0,1270.0" fill="#161617" />
<polygon points="275.3,1248.0 341.0,1209.2 339.6,1256.2 275.3,1295.0" fill="#242426" />
<polygon points="320.3,1235.0 325.1,1233.0 325.1,1250.7 320.3,1252.0" fill="#0a0a0a" />
<polygon points="148.7,1213.4 163.5,1205.0 256.7,1224.4 241.5,1235.5" fill="#e4e6ee" />
<polyline points="160,1210 175,1213" stroke="#8a95c0" stroke-width="0.8" fill="none"/><polyline points="185,1218 240,1228" stroke="#b8bdd0" stroke-width="0.6" fill="none"/>
<polygon points="77.8,1205.5 270.0,1245.0 274.2,1249.0 273.2,1327.2 78.8,1277.4" fill="#e0e1d3" />
<polygon points="77.8,1205.5 270.0,1245.0 274.2,1249.0 260.3,1252.5 81.5,1211.0" fill="#ecece0" />
<polygon points="81.5,1211.0 260.3,1252.5 259.4,1319.8 83.4,1273.7" fill="#6f7a88" />
<line x1="89.4" y1="1223.7" x2="249.1" y2="1263.9" stroke="#a39a70" stroke-width="0.7"/>
<text transform="matrix(1,0.235,0,1,86,1222.5)" font-size="9" fill="#dfe2e6" textLength="163" lengthAdjust="spacingAndGlyphs">JLDXN -TⅡ型户内高压带电显示装置显示器</text>
<circle cx="92.6" cy="1260.5" r="9.5" fill="#9aa2ad" opacity="0.8"/>
<circle cx="107.4" cy="1252.7" r="14.8" fill="url(#lens)" stroke="#e8ebef" stroke-width="1"/><circle cx="105.9" cy="1254.2" r="8.1" fill="#cdd2da" stroke="#eef0f3" stroke-width="0.8"/><circle cx="105.9" cy="1254.2" r="3.7" fill="#e9ecf0"/>
<circle cx="133.2" cy="1259.2" r="14.5" fill="url(#lens)" stroke="#e8ebef" stroke-width="1"/><circle cx="131.7" cy="1260.7" r="8.0" fill="#cdd2da" stroke="#eef0f3" stroke-width="0.8"/><circle cx="131.7" cy="1260.7" r="3.6" fill="#e9ecf0"/>
<circle cx="159.7" cy="1265.6" r="14.5" fill="url(#lens)" stroke="#e8ebef" stroke-width="1"/><circle cx="158.2" cy="1267.1" r="8.0" fill="#cdd2da" stroke="#eef0f3" stroke-width="0.8"/><circle cx="158.2" cy="1267.1" r="3.6" fill="#e9ecf0"/>
<circle cx="112.6" cy="1234" r="0.9" fill="#c98a40"/><circle cx="137.7" cy="1241.1" r="0.9" fill="#20b080"/><circle cx="163.9" cy="1246.9" r="0.9" fill="#e04030"/>
<polygon points="188.0,1261.1 205.0,1264.0 220.7,1267.3 220.7,1285.3 212.0,1289.0 188.0,1283.0" fill="#eeeee8" />
<polygon points="212.0,1266.0 220.7,1267.3 220.7,1285.3 212.0,1289.0" fill="#d7d7cf" />
<text x="227" y="1276" font-size="7" fill="#eee">▲开</text><text x="227" y="1290" font-size="7" fill="#eee">▲关</text>
</svg>
</body></html>
